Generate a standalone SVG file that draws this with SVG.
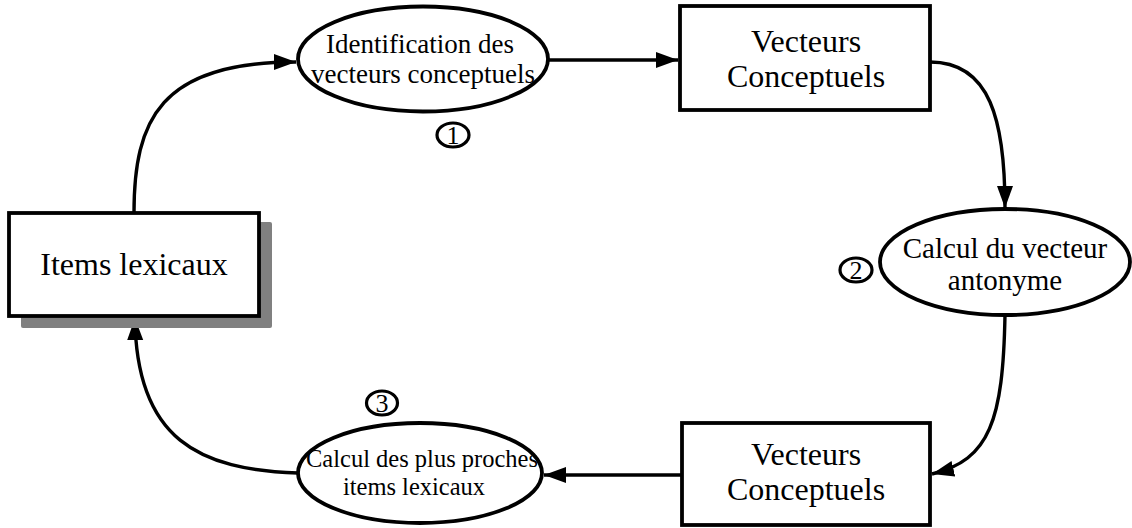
<svg xmlns="http://www.w3.org/2000/svg" width="1132" height="528" viewBox="0 0 1132 528">
<style>
text{font-family:"Liberation Serif","Times New Roman",serif;fill:#000;text-anchor:middle}
.shape{fill:#fff;stroke:#000;stroke-width:3.8}
.num{fill:#fff;stroke:#000;stroke-width:3.2}
.conn{fill:none;stroke:#000;stroke-width:3.4}
.t32{font-size:32px}
.t29{font-size:29px}
.t27{font-size:27px}
.t24{font-size:24.5px}
.tn{font-size:26px}
</style>
<defs>
<marker id="ah" markerUnits="userSpaceOnUse" markerWidth="24" markerHeight="18" refX="22" refY="8" orient="auto">
<path d="M0,0 L22,8 L0,16 z" fill="#000"/>
</marker>
</defs>
<rect width="1132" height="528" fill="#fff"/>
<g id="connectors">
<path class="conn" d="M134,213 C134,120 160,62 296,62" marker-end="url(#ah)"/>
<path class="conn" d="M548,60 L678,60" marker-end="url(#ah)"/>
<path class="conn" d="M930,62 C990,62 1005,120 1005,208" marker-end="url(#ah)"/>
<path class="conn" d="M1005,315 C1003,420 990,460 932,474" marker-end="url(#ah)"/>
<path class="conn" d="M682,475 L544,475" marker-end="url(#ah)"/>
<path class="conn" d="M298,473 C200,470 136,440 135,318" marker-end="url(#ah)"/>
</g>
<g id="items-lexicaux">
<rect x="21" y="222" width="251" height="106" fill="#808080" rx="2"/>
<rect class="shape" x="9" y="213" width="250" height="103"/>
<text class="t32" x="134" y="275">Items lexicaux</text>
</g>
<g id="identification">
<ellipse class="shape" cx="423" cy="59" rx="125" ry="52.5"/>
<text class="t27" x="420" y="53">Identification des</text>
<text class="t27" x="423" y="83">vecteurs conceptuels</text>
</g>
<g id="step1">
<ellipse class="num" cx="453" cy="135" rx="16" ry="12"/>
<text class="tn" x="453" y="144">1</text>
</g>
<g id="vecteurs-1">
<rect class="shape" x="680" y="6" width="250" height="104"/>
<text class="t32" x="806" y="52">Vecteurs</text>
<text class="t32" x="806" y="87">Conceptuels</text>
</g>
<g id="calcul-antonyme">
<ellipse class="shape" cx="1005" cy="262" rx="125" ry="53"/>
<text class="t29" x="1005" y="258">Calcul du vecteur</text>
<text class="t29" x="1005" y="290">antonyme</text>
</g>
<g id="step2">
<ellipse class="num" cx="856" cy="270" rx="16" ry="12"/>
<text class="tn" x="856" y="279">2</text>
</g>
<g id="vecteurs-2">
<rect class="shape" x="682" y="423" width="248" height="102"/>
<text class="t32" x="806" y="465">Vecteurs</text>
<text class="t32" x="806" y="500">Conceptuels</text>
</g>
<g id="calcul-proches">
<ellipse class="shape" cx="420" cy="473" rx="122" ry="50"/>
<text class="t24" x="422" y="467">Calcul des plus proches</text>
<text class="t24" x="414" y="495">items lexicaux</text>
</g>
<g id="step3">
<ellipse class="num" cx="382" cy="403" rx="15.5" ry="12"/>
<text class="tn" x="382" y="412">3</text>
</g>
</svg>
